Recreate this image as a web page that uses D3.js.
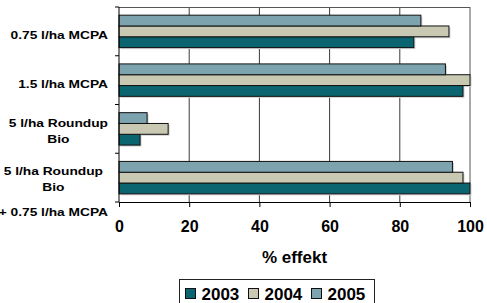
<!DOCTYPE html>
<html>
<head>
<meta charset="utf-8">
<script src="https://cdn.jsdelivr.net/npm/d3@7"></script>
<style>
  html, body { margin: 0; padding: 0; background: #fff; }
  svg { display: block; font-family: "Liberation Sans", Arial, sans-serif; font-weight: bold; }
</style>
</head>
<body>
<svg id="chart" width="487" height="303"></svg>
<script>
// ---- data ----
const categories = ["0.75 l/ha MCPA", "1.5 l/ha MCPA", "5 l/ha Roundup Bio", "5 l/ha Roundup Bio + 0.75 l/ha MCPA"];
const categoryLines = [["0.75 l/ha MCPA"], ["1.5 l/ha MCPA"], ["5 l/ha Roundup", "Bio"], ["5 l/ha Roundup", "Bio", "+ 0.75 l/ha MCPA"]];
const years = ["2003", "2004", "2005"];
const values2003 = [84, 98, 6, 100];
const values2004 = [94, 100, 14, 98];
const values2005 = [86, 93, 8, 95];
const xTicks = [0, 20, 40, 60, 80, 100];
const xTitle = "% effekt";
const colors = { "2003": "#0b6570", "2004": "#c9c9b3", "2005": "#7ca3ae" };

const seriesValues = { "2003": values2003, "2004": values2004, "2005": values2005 };
const data = categories.map((c, i) => ({ cat: c, lines: categoryLines[i], vals: years.map(y => ({ year: y, v: seriesValues[y][i] })) }));

const svg = d3.select("#chart");
const m = { left: 119, right: 470, top: 7, bottom: 202 };

const x = d3.scaleLinear().domain([0, 100]).range([m.left, m.right]);
const y = d3.scaleBand().domain(categories).range([m.top, m.bottom]).paddingInner(0.335).paddingOuter(0.1675);
const yInner = d3.scaleBand().domain(["2005", "2004", "2003"]).range([0, y.bandwidth()]);

// plot border (top/right) and gridlines
svg.append("g").selectAll("line").data(xTicks.slice(1, -1)).join("line")
  .attr("x1", d => x(d)).attr("x2", d => x(d))
  .attr("y1", m.top).attr("y2", m.bottom)
  .attr("stroke", "#3a3a3a").attr("stroke-width", 1);
svg.append("line").attr("x1", m.left).attr("x2", m.right).attr("y1", m.top + 0.5).attr("y2", m.top + 0.5)
  .attr("stroke", "#555").attr("stroke-width", 1);
svg.append("line").attr("x1", m.right).attr("x2", m.right).attr("y1", m.top).attr("y2", m.bottom)
  .attr("stroke", "#555").attr("stroke-width", 1);

// bars
const groups = svg.append("g").selectAll("g").data(data).join("g")
  .attr("transform", d => `translate(0,${y(d.cat)})`);
groups.selectAll("rect.shadow").data(d => d.vals).join("rect").attr("class", "shadow")
  .attr("x", x(0) + 1.5).attr("y", d => yInner(d.year) + 1.5)
  .attr("width", d => x(d.v) - x(0)).attr("height", yInner.bandwidth())
  .attr("fill", "#d0d0d0");
groups.selectAll("rect.bar").data(d => d.vals).join("rect").attr("class", "bar")
  .attr("x", x(0)).attr("y", d => yInner(d.year))
  .attr("width", d => x(d.v) - x(0)).attr("height", yInner.bandwidth())
  .attr("fill", d => colors[d.year]).attr("stroke", "#111").attr("stroke-width", 1);

// x axis
const xAxis = svg.append("g").attr("transform", `translate(0,${m.bottom})`)
  .call(d3.axisBottom(x).tickValues(xTicks).tickSize(5).tickPadding(14).tickSizeOuter(0));
xAxis.select(".domain").attr("stroke", "#000");
xAxis.selectAll(".tick line").attr("stroke", "#000");
xAxis.selectAll(".tick text").attr("font-size", 16).attr("font-weight", "bold").attr("fill", "#000")
  .attr("font-family", "Liberation Sans, Arial, sans-serif").attr("dy", null).attr("y", 30);

// y axis line and ticks at category boundaries
const boundaries = categories.map(c => y(c) - y.step() * y.paddingInner() / 2).concat([m.bottom]);
svg.append("line").attr("x1", m.left).attr("x2", m.left).attr("y1", m.top).attr("y2", m.bottom).attr("stroke", "#000");
svg.append("g").selectAll("line").data(boundaries).join("line")
  .attr("x1", m.left - 4).attr("x2", m.left).attr("y1", d => d).attr("y2", d => d).attr("stroke", "#000");

// category labels
const offsets = [[7.5], [7.5], [-2.2, 13.8], [-2.6, 13.4, 38.4]];
const labelG = svg.append("g").selectAll("g").data(data).join("g")
  .attr("transform", d => `translate(108,${y(d.cat) + y.bandwidth() / 2}) scale(1.25,1)`);
labelG.each(function(d, i) {
  const g = d3.select(this);
  const texts = g.selectAll("text").data(d.lines).join("text")
    .attr("font-size", 11).attr("fill", "#000")
    .attr("y", (t, j) => offsets[i][j])
    .text(t => t);
  let w = 0;
  texts.each(function() { w = Math.max(w, this.getComputedTextLength()); });
  texts.attr("text-anchor", "middle").attr("x", -w / 2);
});

// x title
svg.append("text").attr("x", (m.left + m.right) / 2).attr("y", 263).attr("text-anchor", "middle")
  .attr("font-size", 17).attr("fill", "#000").text(xTitle);

// legend
const legend = svg.append("g");
legend.append("rect").attr("x", 179.5).attr("y", 279.5).attr("width", 195).attr("height", 30)
  .attr("fill", "#fff").attr("stroke", "#222");
const li = legend.selectAll("g").data(years).join("g")
  .attr("transform", (d, i) => `translate(${185 + i * 63},0)`);
li.append("rect").attr("x", 0.5).attr("y", 288.5).attr("width", 10).attr("height", 10)
  .attr("fill", d => colors[d]).attr("stroke", "#111");
li.append("text").attr("x", 16.5).attr("y", 300).attr("font-size", 17).attr("fill", "#000").text(d => d);
</script>
</body>
</html>
